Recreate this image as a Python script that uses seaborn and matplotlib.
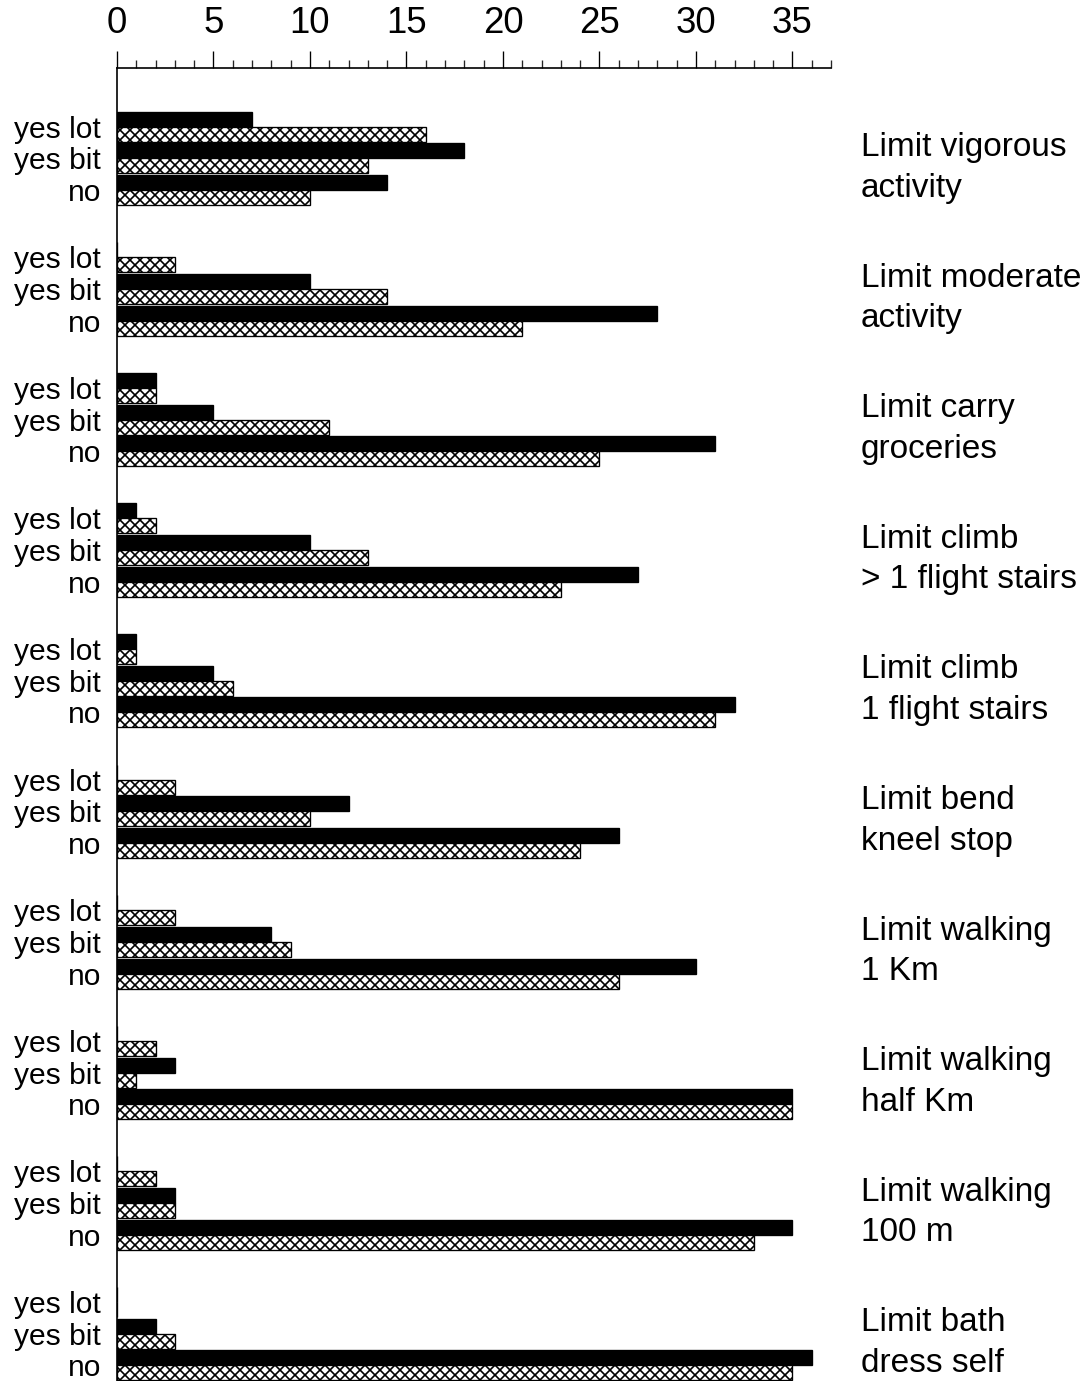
import numpy as np
import pandas as pd
import matplotlib
matplotlib.use("Agg")
import matplotlib.pyplot as plt
from matplotlib.ticker import MultipleLocator
import seaborn as sns

# SF-36 physical functioning items, answer counts per response level
items = [
    "Limit vigorous\nactivity",
    "Limit moderate\nactivity",
    "Limit carry\ngroceries",
    "Limit climb\n> 1 flight stairs",
    "Limit climb\n1 flight stairs",
    "Limit bend\nkneel stop",
    "Limit walking\n1 Km",
    "Limit walking\nhalf Km",
    "Limit walking\n100 m",
    "Limit bath\ndress self",
]
responses = ["yes lot", "yes bit", "no"]

# counts for each item: [yes lot, yes bit, no]
solid_counts = [
    [7, 18, 14],
    [0, 10, 28],
    [2, 5, 31],
    [1, 10, 27],
    [1, 5, 32],
    [0, 12, 26],
    [0, 8, 30],
    [0, 3, 35],
    [0, 3, 35],
    [0, 2, 36],
]
hatched_counts = [
    [16, 13, 10],
    [3, 14, 21],
    [2, 11, 25],
    [2, 13, 23],
    [1, 6, 31],
    [3, 10, 24],
    [3, 9, 26],
    [2, 1, 35],
    [2, 3, 33],
    [0, 3, 35],
]
series_names = ["solid", "hatched"]

# vertical layout: three response rows per item, with a gap between items
item_step = 4.12
rows = []
for g, item in enumerate(items):
    for c, resp in enumerate(responses):
        pos = g * item_step + c
        rows.append({"pos": pos, "item": item, "response": resp,
                     "series": series_names[0], "count": solid_counts[g][c]})
        rows.append({"pos": pos, "item": item, "response": resp,
                     "series": series_names[1], "count": hatched_counts[g][c]})
df = pd.DataFrame(rows)

sns.set_style("white")
plt.rcParams["font.family"] = ["Liberation Sans", "DejaVu Sans"]
plt.rcParams["hatch.linewidth"] = 1.0
plt.rcParams["hatch.color"] = "black"

W, H, DPI = 1089, 1381, 120
fig = plt.figure(figsize=(W / DPI, H / DPI), dpi=DPI)
ax = fig.add_axes([117 / W, 0.0, 714 / W, 1 - 68 / H])

sns.barplot(
    data=df, x="count", y="pos", hue="series", hue_order=series_names,
    orient="h", native_scale=True, dodge=True, width=0.946,
    palette={series_names[0]: "black", series_names[1]: "white"},
    edgecolor="black", linewidth=0.8, errorbar=None, legend=False, ax=ax,
)

for bar in ax.containers[1]:
    bar.set_hatch("xxxx")

last_pos = (len(items) - 1) * item_step + 2
ax.set_ylim(last_pos + 0.49, -1.85)
ax.set_xlim(0, 37)

# top axis with major ticks every 5 and minor every 1
ax.xaxis.tick_top()
ax.xaxis.set_label_position("top")
ax.xaxis.set_major_locator(MultipleLocator(5))
ax.xaxis.set_minor_locator(MultipleLocator(1))
ax.tick_params(axis="x", which="major", direction="out", length=10.2, width=0.8,
               labelsize=22, pad=6, colors="black", top=True, bottom=False,
               labeltop=True, labelbottom=False)
ax.tick_params(axis="x", which="minor", direction="out", length=4.8, width=0.8,
               top=True, bottom=False)
ax.set_xlabel("")
ax.set_ylabel("")

positions = [g * item_step + c for g in range(len(items)) for c in range(len(responses))]
ax.set_yticks(positions)
ax.set_yticklabels(responses * len(items))
ax.tick_params(axis="y", length=0, labelsize=18, pad=9.5, colors="black")

for side in ["right", "bottom"]:
    ax.spines[side].set_visible(False)
for side in ["top", "left"]:
    ax.spines[side].set_visible(True)
    ax.spines[side].set_color("black")
    ax.spines[side].set_linewidth(1.0)

# item names to the right of each block
for g, item in enumerate(items):
    ax.text(38.55, g * item_step + 1.3, item, ha="left", va="center",
            fontsize=20, color="black", linespacing=1.4, clip_on=False)

ax.grid(False)
fig.savefig("out.png", dpi=DPI, facecolor="white")
